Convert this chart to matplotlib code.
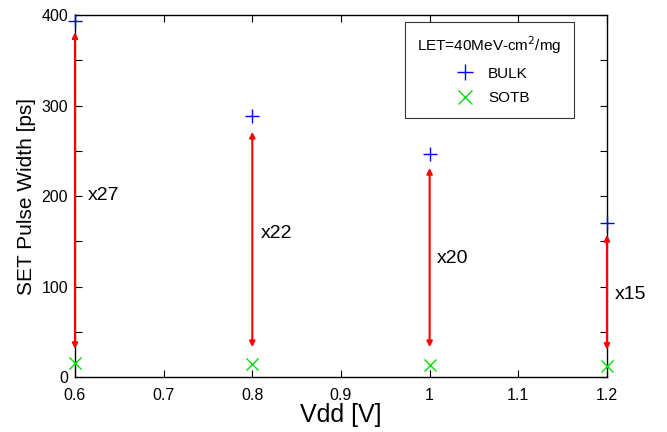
import matplotlib

matplotlib.use("Agg")
import matplotlib.pyplot as plt

plt.rcParams["font.family"] = ["Liberation Sans", "DejaVu Sans"]

vdd = [0.6, 0.8, 1.0, 1.2]
bulk = [394, 288, 246, 170]
sotb = [16, 14, 13, 12]
arrow_top = [381, 271, 231, 157]
arrow_bottom = [31, 33, 33, 30]
ratio_labels = ["x27", "x22", "x20", "x15"]
ratio_x = [0.615, 0.809, 1.008, 1.209]
ratio_y = [201, 159, 131, 91]
xticks = [0.6, 0.7, 0.8, 0.9, 1.0, 1.1, 1.2]
xticklabels = ["0.6", "0.7", "0.8", "0.9", "1", "1.1", "1.2"]
yticks = [0, 100, 200, 300, 400]
yminor = [50, 150, 250, 350]

fig = plt.figure(figsize=(6.67, 4.32), dpi=100)
ax = fig.add_axes([0.1124, 0.1273, 0.7976, 0.8377])

ax.plot(vdd, bulk, linestyle="none", marker="+", color="blue",
        markersize=10, markeredgewidth=1.0, label="BULK", clip_on=False, zorder=5)
ax.plot(vdd, sotb, linestyle="none", marker="x", color="#00e000",
        markersize=8, markeredgewidth=1.0, label="SOTB", clip_on=False, zorder=5)

for x, y0, y1 in zip(vdd, arrow_bottom, arrow_top):
    ax.annotate("", xy=(x, y1), xytext=(x, y0),
                arrowprops=dict(arrowstyle="<|-|>", color="red", lw=1.5,
                                mutation_scale=8, shrinkA=0, shrinkB=0),
                annotation_clip=False)

for lbl, x, y in zip(ratio_labels, ratio_x, ratio_y):
    ax.text(x, y, lbl, fontsize=14, ha="left", va="center")

ax.set_xlim(0.6, 1.2)
ax.set_ylim(0, 400)
ax.set_xticks(xticks)
ax.set_xticklabels(xticklabels)
ax.set_yticks(yticks)
ax.set_yticks(yminor, minor=True)
ax.tick_params(which="both", direction="in", top=True, right=True,
               length=5, width=0.8, labelsize=11.5)
ax.tick_params(axis="x", pad=8)
ax.tick_params(axis="y", pad=5)

for s in ax.spines.values():
    s.set_linewidth(1.0)

ax.set_xlabel("Vdd [V]", fontsize=18, labelpad=0)
ax.set_ylabel("SET Pulse Width [ps]", fontsize=15, labelpad=4)

leg = ax.legend(title="LET=40MeV-cm$^2$/mg", loc="upper right",
                bbox_to_anchor=(0.938, 0.981), borderaxespad=0,
                fontsize=11, title_fontsize=11,
                frameon=True, fancybox=False, edgecolor="black",
                borderpad=0.8, labelspacing=0.7, handletextpad=0.5,
                markerscale=1.2)
leg.get_frame().set_linewidth(0.8)

fig.savefig("out.png", dpi=100)
